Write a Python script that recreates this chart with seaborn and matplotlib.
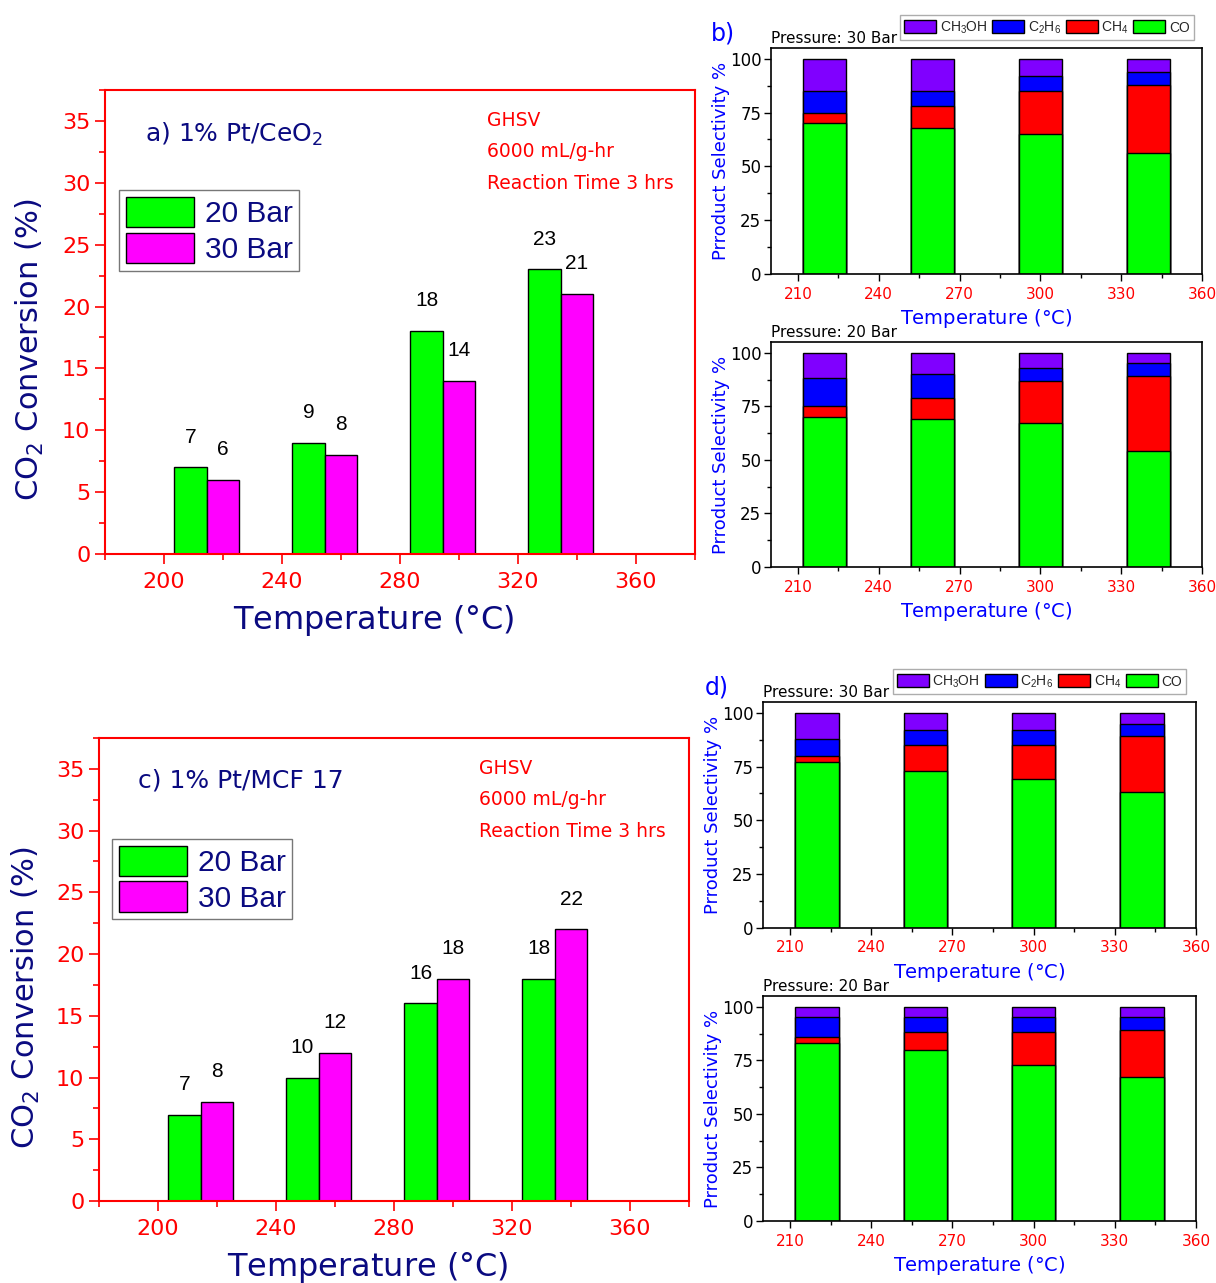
import numpy as np
import pandas as pd
import matplotlib
matplotlib.use("Agg")
import matplotlib.pyplot as plt
import seaborn as sns
from matplotlib.ticker import MultipleLocator
from matplotlib.patches import Patch

# ---------------- data ----------------
temps = [220, 260, 300, 340]
bar_shift = 11  # 20 Bar bar drawn one bar width left of the 30 Bar bar

conv_a_20 = [7, 9, 18, 23]
conv_a_30 = [6, 8, 14, 21]
conv_c_20 = [7, 10, 16, 18]
conv_c_30 = [8, 12, 18, 22]

product_labels = ["CH$_3$OH", "C$_2$H$_6$", "CH$_4$", "CO"]

b30_CO = [70, 68, 65, 56]
b30_CH4 = [5, 10, 20, 32]
b30_C2H6 = [10, 7, 7, 6]
b30_CH3OH = [15, 15, 8, 6]

b20_CO = [70, 69, 67, 54]
b20_CH4 = [5, 10, 20, 35]
b20_C2H6 = [13, 11, 6, 6]
b20_CH3OH = [12, 10, 7, 5]

d30_CO = [77, 73, 69, 63]
d30_CH4 = [3, 12, 16, 26]
d30_C2H6 = [8, 7, 7, 6]
d30_CH3OH = [12, 8, 8, 5]

d20_CO = [83, 80, 73, 67]
d20_CH4 = [3, 8, 15, 22]
d20_C2H6 = [9, 7, 7, 6]
d20_CH3OH = [5, 5, 5, 5]

# ---------------- style ----------------
sns.set_theme(style="white")
plt.rcParams["font.family"] = ["DejaVu Sans"]
plt.rcParams["mathtext.default"] = "regular"

GREEN = "#00FF00"
MAGENTA = "#FF00FF"
PURPLE = "#8000FF"
BLUE = "#0000FF"
RED = "#FF0000"
NAVY = "#0A0A80"

W, H = 1216, 1283
fig = plt.figure(figsize=(W / 100, H / 100), dpi=100)


def rect(l, r, t, b):
    return [l / W, 1 - b / H, (r - l) / W, (b - t) / H]


def px(x, y):
    return x / W, 1 - y / H


def conv_panel(ax, v20, v30, title, title_xy, ghsv_xy, leg_anchor, ylab_x):
    x20 = np.array(temps) - bar_shift
    sns.barplot(x=x20, y=v20, native_scale=True, width=0.275, color=GREEN,
                saturation=1, edgecolor="black", linewidth=1, errorbar=None, ax=ax)
    sns.barplot(x=np.array(temps), y=v30, native_scale=True, width=0.275, color=MAGENTA,
                saturation=1, edgecolor="black", linewidth=1, errorbar=None, ax=ax)
    for cont in ax.containers:
        ax.bar_label(cont, padding=15, fontsize=15, color="black",
                     family="Liberation Sans")
    ax.set_xlim(180, 380)
    ax.set_ylim(0, 37.5)
    ax.set_xticks([200, 240, 280, 320, 360])
    ax.xaxis.set_minor_locator(MultipleLocator(20))
    ax.yaxis.set_major_locator(MultipleLocator(5))
    ax.yaxis.set_minor_locator(MultipleLocator(2.5))
    for s in ax.spines.values():
        s.set_color(RED)
        s.set_linewidth(1.5)
    ax.tick_params(which="both", direction="out", colors=RED, labelsize=16,
                   bottom=True, left=True)
    ax.tick_params(which="major", length=7, width=1.2)
    ax.tick_params(which="minor", length=4, width=1.2)
    ax.tick_params(axis="x", pad=6)
    ax.set_xlabel("Temperature ($\\degree$C)", fontsize=23, color=NAVY)
    ax.set_ylabel("CO$_2$ Conversion (%)", fontsize=22, color=NAVY)
    ax.xaxis.set_label_coords(0.455, -0.105)
    ax.yaxis.set_label_coords(ylab_x, 0.44)
    ax.text(*title_xy, title, transform=ax.transAxes, fontsize=18, color=NAVY,
            ha="left", va="center")
    gx, gy = ghsv_xy
    for i, s in enumerate(["GHSV", "6000 mL/g-hr", "Reaction Time 3 hrs"]):
        ax.text(gx, gy - i * 0.068, s, transform=ax.transAxes, fontsize=13.5,
                color=RED, ha="left", va="center")
    handles = [Patch(facecolor=GREEN, edgecolor="black", linewidth=1, label="20 Bar"),
               Patch(facecolor=MAGENTA, edgecolor="black", linewidth=1, label="30 Bar")]
    leg = ax.legend(handles=handles, loc="upper left", bbox_to_anchor=leg_anchor,
                    borderaxespad=0, frameon=True, fancybox=False,
                    handlelength=2.3, handleheight=1.2, handletextpad=0.35,
                    labelspacing=0.15, borderpad=0.22, labelcolor=NAVY,
                    prop={"family": "Liberation Sans", "size": 21.5})
    leg.get_frame().set_edgecolor("#555555")
    leg.get_frame().set_linewidth(1)
    ax.grid(False)


def stacked_panel(ax, CO, CH4, C2H6, CH3OH, pressure, letter=None, legend=False,
                  letter_xy=None):
    df = pd.DataFrame({"T": temps, "CO": CO, "CH4": CH4, "C2H6": C2H6, "CH3OH": CH3OH})
    cum = df[["CO", "CH4", "C2H6", "CH3OH"]].cumsum(axis=1)
    cum["T"] = df["T"]
    for col, colr in [("CH3OH", PURPLE), ("C2H6", BLUE), ("CH4", RED), ("CO", GREEN)]:
        sns.barplot(data=cum, x="T", y=col, native_scale=True, width=0.4, color=colr,
                    saturation=1, edgecolor="black", linewidth=1, errorbar=None, ax=ax)
    ax.set_xlim(200, 360)
    ax.set_ylim(0, 105)
    ax.set_xticks([210, 240, 270, 300, 330, 360])
    ax.xaxis.set_minor_locator(MultipleLocator(15))
    ax.set_yticks([0, 25, 50, 75, 100])
    ax.yaxis.set_minor_locator(MultipleLocator(12.5))
    for s in ax.spines.values():
        s.set_color("black")
        s.set_linewidth(1.2)
    ax.tick_params(which="both", direction="out", colors="black", bottom=True, left=True)
    ax.tick_params(which="major", length=5, width=1)
    ax.tick_params(which="minor", length=3, width=1)
    ax.tick_params(axis="x", labelcolor=RED, labelsize=11, pad=4)
    ax.tick_params(axis="y", labelsize=12, pad=2)
    ax.set_xlabel("Temperature ($\\degree$C)", fontsize=14, color=BLUE)
    ax.set_ylabel("Prroduct Selectivity %", fontsize=13, color=BLUE)
    ax.xaxis.set_label_coords(0.5, -0.145)
    ax.yaxis.set_label_coords(-0.095, 0.5)
    ax.text(0.0, 1.01, f"Pressure: {pressure} Bar", transform=ax.transAxes,
            fontsize=11, color="black", ha="left", va="bottom")
    ax.grid(False)
    if legend:
        handles = [Patch(facecolor=c, edgecolor="black", linewidth=1, label=l)
                   for c, l in zip([PURPLE, BLUE, RED, GREEN], product_labels)]
        leg = ax.legend(handles=handles, loc="lower left", bbox_to_anchor=(0.30, 1.035),
                        ncol=4, borderaxespad=0, frameon=True, fancybox=False,
                        handlelength=2.3, handleheight=1.1, handletextpad=0.25,
                        columnspacing=0.35, borderpad=0.3,
                        prop={"family": "Liberation Sans", "size": 10})
        leg.get_frame().set_edgecolor("#999999")
        leg.get_frame().set_linewidth(1)
    if letter:
        fig.text(*letter_xy, letter, fontsize=17, color=BLUE, ha="left", va="center")


ax_a = fig.add_axes(rect(105, 695, 90, 554))
conv_panel(ax_a, conv_a_20, conv_a_30, "a) 1% Pt/CeO$_2$", (0.068, 0.905), (0.647, 0.935),
           (0.024, 0.784), -0.10)

ax_c = fig.add_axes(rect(99, 689, 738, 1201))
conv_panel(ax_c, conv_c_20, conv_c_30, "c) 1% Pt/MCF 17", (0.066, 0.908), (0.644, 0.935),
           (0.022, 0.782), -0.097)

ax_b1 = fig.add_axes(rect(771, 1202, 48, 274))
stacked_panel(ax_b1, b30_CO, b30_CH4, b30_C2H6, b30_CH3OH, 30, letter="b)", legend=True,
              letter_xy=px(711, 33))
ax_b2 = fig.add_axes(rect(771, 1202, 342, 567))
stacked_panel(ax_b2, b20_CO, b20_CH4, b20_C2H6, b20_CH3OH, 20)

ax_d1 = fig.add_axes(rect(763, 1196, 702, 928))
stacked_panel(ax_d1, d30_CO, d30_CH4, d30_C2H6, d30_CH3OH, 30, letter="d)", legend=True,
              letter_xy=px(705, 688))
ax_d2 = fig.add_axes(rect(763, 1196, 996, 1221))
stacked_panel(ax_d2, d20_CO, d20_CH4, d20_C2H6, d20_CH3OH, 20)

fig.savefig("out.png", dpi=100, facecolor="white")
